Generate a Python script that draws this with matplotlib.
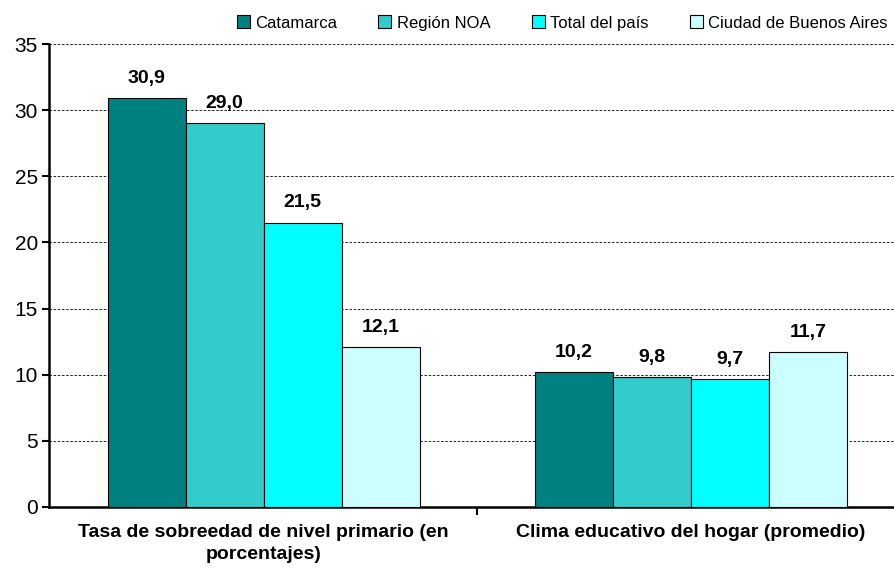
import matplotlib.pyplot as plt
import numpy as np

plt.rcParams['font.family'] = ['Liberation Sans', 'DejaVu Sans']

categories = ['Tasa de sobreedad de nivel primario (en\nporcentajes)',
              'Clima educativo del hogar (promedio)']
series = ['Catamarca', 'Región NOA', 'Total del país', 'Ciudad de Buenos Aires']
values = {
    'Catamarca': [30.9, 10.2],
    'Región NOA': [29.0, 9.8],
    'Total del país': [21.5, 9.7],
    'Ciudad de Buenos Aires': [12.1, 11.7],
}
colors = ['#008080', '#33CCCC', '#00FFFF', '#CCFFFF']

fig = plt.figure(figsize=(8.94, 5.78), dpi=100)
ax = fig.add_axes([49 / 894, 1 - 507 / 578, 845 / 894, 463 / 578])

x = np.arange(len(categories))
w = 0.1825
for i, s in enumerate(series):
    pos = x + (i - 1.5) * w
    ax.bar(pos, values[s], w, color=colors[i], edgecolor='black',
           linewidth=0.8, label=s, zorder=3)
    for xp, v in zip(pos, values[s]):
        ax.annotate(f'{v:.1f}'.replace('.', ','), (xp, v), xytext=(0, 8),
                    textcoords='offset points', ha='center', va='bottom',
                    fontsize=14, fontweight='bold')

ax.set_xlim(-0.502, 1.475)
ax.set_ylim(0, 35)
ax.set_yticks(range(0, 36, 5))
ax.yaxis.grid(True, linestyle=(0, (3, 2)), color='black', linewidth=0.6, zorder=0)
ax.tick_params(axis='y', labelsize=15, length=5, width=1.5, direction='out', pad=3)

ax.set_xticks([0.5])
ax.set_xticklabels([])
ax.tick_params(axis='x', length=6, width=1.5, direction='out')
for xc, lab in zip(x, categories):
    ax.text(xc, -1.25, lab, ha='center', va='top', fontsize=14,
            fontweight='bold', linespacing=1.4)

for sp in ['top', 'right']:
    ax.spines[sp].set_visible(False)
ax.spines['left'].set_linewidth(1.8)
ax.spines['bottom'].set_linewidth(1.8)

fig.legend(loc='center right', bbox_to_anchor=(888 / 894, 1 - 23 / 578), ncol=4,
           frameon=False, fontsize=12, handlelength=0.78, handleheight=0.78,
           handletextpad=0.35, columnspacing=2.45, borderaxespad=0, borderpad=0)

fig.savefig('out.png', dpi=100)
